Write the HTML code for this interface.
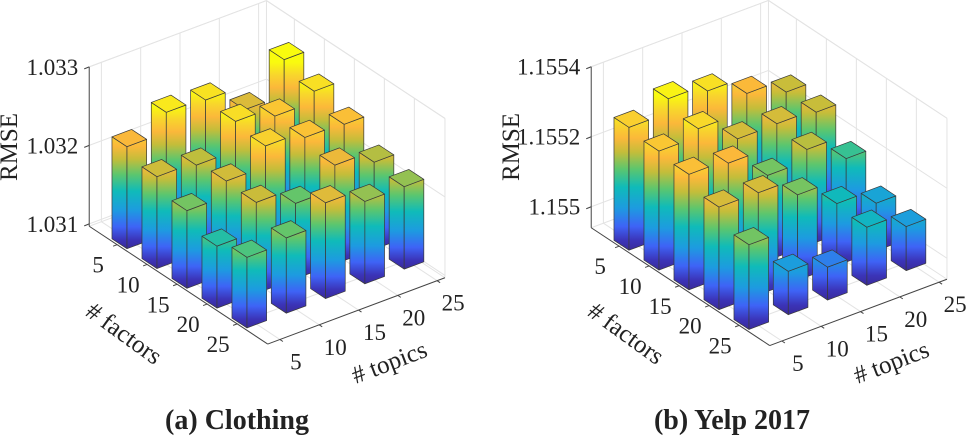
<!DOCTYPE html>
<html><head><meta charset="utf-8"><style>
html,body{margin:0;padding:0;background:#fff;}
svg{display:block;}
text{font-family:"Liberation Serif",serif;fill:#222;}
</style></head><body>
<svg id="fig" width="970" height="437" viewBox="0 0 970 437" xmlns="http://www.w3.org/2000/svg">
<defs id="defs"></defs>
<g id="chartA"></g>
<g id="chartB"></g>
<text x="237" y="429" text-anchor="middle" style="font-size:28px;font-weight:bold">(a) Clothing</text>
<text x="732" y="429" text-anchor="middle" style="font-size:28px;font-weight:bold">(b) Yelp 2017</text>
</svg>
<script>
const factors=[5,10,15,20,25];
const topics=[5,10,15,20,25];
const clothingRmse=[
 [1.03227,1.03252,1.03249,1.03218,1.03263],
 [1.03214,1.03210,1.03247,1.03235,1.03248],
 [1.03196,1.03215,1.03241,1.03233,1.03231],
 [1.03176,1.03213,1.03193,1.03223,1.03208],
 [1.03187,1.03193,1.03219,1.03202,1.03202]];
const yelpRmse=[
 [1.155291,1.155331,1.155311,1.155262,1.155224],
 [1.155280,1.155302,1.155231,1.155232,1.155223],
 [1.155270,1.155260,1.155183,1.155215,1.155147],
 [1.155233,1.155232,1.155184,1.155117,1.155076],
 [1.155182,1.155064,1.155034,1.155106,1.155066]];
const clothingZTicks=[1.031,1.032,1.033];
const clothingZLabels=["1.031","1.032","1.033"];
const yelpZTicks=[1.155,1.1552,1.1554];
const yelpZLabels=["1.155","1.1552","1.1554"];

const NS="http://www.w3.org/2000/svg";
const stops=[[0,"#3a2a9a"],[0.07,"#3b34b8"],[0.17,"#3e63f6"],[0.3,"#1d9be0"],[0.45,"#0fbbb9"],[0.58,"#5cc66e"],[0.7,"#c4bd3a"],[0.8,"#fbb83a"],[0.9,"#f8d62c"],[1,"#f9fb0e"]];
function hex(h){return [1,3,5].map(k=>parseInt(h.substr(k,2),16));}
function cmap(t){t=Math.max(0,Math.min(1,t));for(let k=1;k<stops.length;k++){if(t<=stops[k][0]){const a=stops[k-1],b=stops[k];const u=(t-a[0])/(b[0]-a[0]);const ca=hex(a[1]),cb=hex(b[1]);return "rgb("+ca.map((v,q)=>Math.round(v+(cb[q]-v)*u)).join(",")+")";}}return stops[stops.length-1][1];}
function mk(tag,attrs,parent){const e=document.createElementNS(NS,tag);for(const k in attrs)e.setAttribute(k,attrs[k]);parent.appendChild(e);return e;}
let gid=0;
function draw(g,cfg,vals,zt,zl){
 const P=(i,j,z)=>[cfg.B[0]+i*cfg.F[0]+j*cfg.T[0], cfg.B[1]+i*cfg.F[1]+j*cfg.T[1]-(z-cfg.zf)*cfg.s];
 const fi=f=>(f-5)/5, tj=t=>(t-5)/5;
 const [i0,i1]=cfg.iR,[j0,j1]=cfg.jR;
 const line=(a,b,st,w,name)=>{const l=mk("line",{x1:a[0],y1:a[1],x2:b[0],y2:b[1],stroke:st,"stroke-width":w},g);
  
  return l;};
 const gc="#e3e3e3";
 line(P(i0,j1,cfg.zf),P(i0,j1,cfg.ztop),gc,1,"back-edge");
 line(P(i0,j0,cfg.ztop),P(i0,j1,cfg.ztop),gc,1,"wall-top-edge");
 line(P(i0,j1,cfg.ztop),P(i1,j1,cfg.ztop),gc,1,"wall-top-edge");
 line(P(i1,j1,cfg.zf),P(i1,j1,cfg.ztop),gc,1,"wall-edge");
 line(P(i0,j0,cfg.zf),P(i0,j1,cfg.zf),gc,1,"floor-back-edge");
 line(P(i0,j1,cfg.zf),P(i1,j1,cfg.zf),gc,1,"floor-back-edge");
 topics.forEach(t=>{line(P(i0,tj(t),cfg.zf),P(i0,tj(t),cfg.ztop),gc,1,"grid-line");line(P(i0,tj(t),cfg.zf),P(i1,tj(t),cfg.zf),gc,1,"grid-line");});
 factors.forEach(f=>{line(P(fi(f),j1,cfg.zf),P(fi(f),j1,cfg.ztop),gc,1,"grid-line");line(P(fi(f),j0,cfg.zf),P(fi(f),j1,cfg.zf),gc,1,"grid-line");});
 zt.forEach(z=>{line(P(i0,j0,z),P(i0,j1,z),gc,1,"grid-line");line(P(i0,j1,z),P(i1,j1,z),gc,1,"grid-line");});
 const ac="#444";
 line(P(i0,j0,cfg.zf),P(i0,j0,cfg.ztop),ac,1,"z-axis");
 line(P(i0,j0,cfg.zf),P(i1,j0,cfg.zf),ac,1,"factors-axis");
 line(P(i1,j0,cfg.zf),P(i1,j1,cfg.zf),ac,1,"topics-axis");
 zt.forEach((z,k)=>{const p=P(i0,j0,z);line(p,[p[0]-5,p[1]+2],ac,1,"z-tick");
  const t=mk("text",{x:p[0]-11,y:p[1]+8,"text-anchor":"end","font-size":"23"},g);t.textContent=zl[k];
  
  });
 factors.forEach(f=>{const p=P(fi(f),j0,cfg.zf);line(p,[p[0]-4,p[1]+1.5],ac,1,"factor-tick");
  const t=mk("text",{x:p[0]-19,y:p[1]+28,"text-anchor":"middle","font-size":"23"},g);t.textContent=f;
  
  });
 topics.forEach(tp=>{const p=P(i1,tj(tp),cfg.zf);line(p,[p[0]+3,p[1]+2],ac,1,"topic-tick");
  const t=mk("text",{x:p[0]+16,y:p[1]+30,"text-anchor":"middle","font-size":"23"},g);t.textContent=tp;
  
  });
 const order=[];factors.forEach((f,a)=>topics.forEach((t,b)=>order.push([a,b])));
 order.sort((p,q)=>(fi(factors[p[0]])-tj(topics[p[1]]))-(fi(factors[q[0]])-tj(topics[q[1]])));
 const defs=document.getElementById("defs");
 order.forEach(([a,b])=>{
  const v=vals[a][b],i=fi(factors[a]),j=tj(topics[b]),h=0.25;
  const fb=P(i+h,j-h,cfg.zf),lb=P(i-h,j-h,cfg.zf),rb=P(i+h,j+h,cfg.zf);
  const ft=P(i+h,j-h,v),lt=P(i-h,j-h,v),rt=P(i+h,j+h,v),bt=P(i-h,j+h,v);
  const id="g"+(gid++);
  const gr=mk("linearGradient",{id:id,gradientUnits:"userSpaceOnUse",x1:0,x2:0,y1:fb[1],y2:fb[1]-(cfg.cmax-cfg.zf)*cfg.s},defs);
  stops.forEach(s=>mk("stop",{offset:s[0],"stop-color":s[1]},gr));
  const bg=mk("g",{},g);
  
  
  const pts=arr=>arr.map(p=>p.join(",")).join(" ");
  const st={stroke:"#3a3a3a","stroke-width":0.7,"stroke-linejoin":"round"};
  mk("polygon",Object.assign({points:pts([lb,fb,ft,lt]),fill:"url(#"+id+")"},st),bg);
  mk("polygon",Object.assign({points:pts([fb,rb,rt,ft]),fill:"url(#"+id+")"},st),bg);
  mk("polygon",Object.assign({points:pts([lt,ft,rt,bt]),fill:cmap((v-cfg.zf)/(cfg.cmax-cfg.zf))},st),bg);
 });
 const L=P(i0,j0,cfg.zf);
 const r=mk("text",{x:0,y:0,"text-anchor":"middle","font-size":"25",transform:"translate("+(L[0]-72)+",147) rotate(-90)"},g);r.textContent="RMSE";
 
 
 const fa=mk("text",{x:0,y:0,"text-anchor":"middle","font-size":"25",transform:"translate("+(L[0]+30)+",340) rotate(36)"},g);fa.textContent="# factors";
 
 
 const ta=mk("text",{x:0,y:0,"text-anchor":"middle","font-size":"25",transform:"translate("+(L[0]+303)+",370) rotate(-21)"},g);ta.textContent="# topics";
 
 
}
draw(document.getElementById("chartA"),{B:[129.3,240.1],F:[30,19.8],T:[39.3,-14.7],s:78500,zf:1.03097,ztop:1.033,cmax:1.0326,iR:[-0.93,5.02],jR:[-0.31,4.2]},clothingRmse,clothingZTicks,clothingZLabels);
draw(document.getElementById("chartB"),{B:[631.3,241.6],F:[30,19.8],T:[39.3,-14.7],s:350000,zf:1.15494,ztop:1.1554,cmax:1.15534,iR:[-0.93,5.02],jR:[-0.31,4.2]},yelpRmse,yelpZTicks,yelpZLabels);
</script>
</body></html>
